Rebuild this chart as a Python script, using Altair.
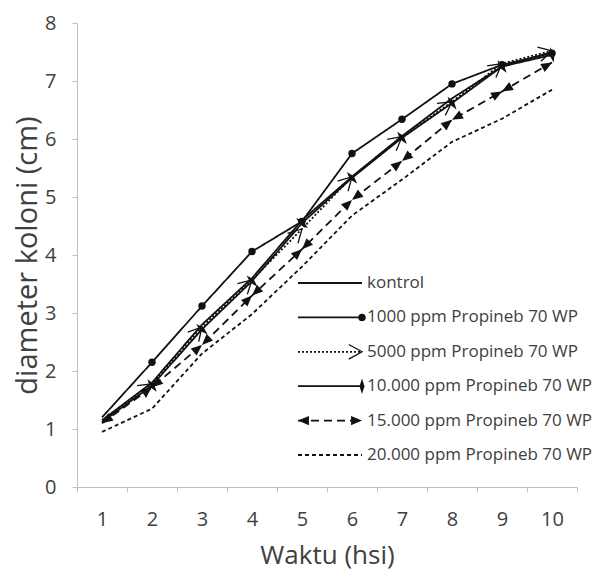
import math
import pandas as pd
import altair as alt

# ---------------- data ----------------
days = [1, 2, 3, 4, 5, 6, 7, 8, 9, 10]
series_names = [
    "kontrol",
    "1000 ppm Propineb 70 WP",
    "5000 ppm Propineb 70 WP",
    "10.000 ppm Propineb 70 WP",
    "15.000 ppm Propineb 70 WP",
    "20.000 ppm Propineb 70 WP",
]
kontrol = [1.15, 1.80, 2.80, 3.60, 4.60, 5.35, 6.05, 6.70, 7.25, 7.50]
p1000 = [1.20, 2.15, 3.12, 4.06, 4.58, 5.75, 6.34, 6.95, 7.28, 7.48]
p5000 = [1.15, 1.78, 2.76, 3.57, 4.45, 5.35, 6.04, 6.64, 7.30, 7.52]
p10000 = [1.12, 1.75, 2.72, 3.55, 4.55, 5.33, 6.02, 6.62, 7.25, 7.45]
p15000 = [1.10, 1.72, 2.45, 3.30, 4.10, 4.95, 5.62, 6.33, 6.82, 7.32]
p20000 = [0.95, 1.35, 2.30, 2.98, 3.80, 4.68, 5.30, 5.95, 6.35, 6.85]
all_values = [kontrol, p1000, p5000, p10000, p15000, p20000]

x_tick_values = [0.5, 1.5, 2.5, 3.5, 4.5, 5.5, 6.5, 7.5, 8.5, 9.5, 10.5]
y_tick_values = [0, 1, 2, 3, 4, 5, 6, 7, 8]

# ---------------- layout / style ----------------
PLOT_W, PLOT_H = 500, 464
X_DOM = [0.5, 10.5]
Y_DOM = [0, 8]
PX_X = PLOT_W / (X_DOM[1] - X_DOM[0])
PX_Y = PLOT_H / (Y_DOM[1] - Y_DOM[0])
INK = "#111111"
AXIS_GRAY = "#bfbfbf"
TEXT_GRAY = "#404040"
FONT = "Open Sans"

dash_range = [[1, 0], [1, 0], [2, 2], [1, 0], [8, 5], [4, 3]]
width_range = [1.8, 1.8, 1.3, 1.8, 2.0, 1.6]

# custom symbol paths (tip at origin, pointing right)
CHEVRON = "M-1,-0.55 L0,0 L-1,0.55"
TRIANGLE = "M0,0 L-1,-0.42 L-1,0.42 Z"
THIN_DIAMOND = "M0,-1 L0.32,0 L0,1 L-0.32,0 Z"

# ---------------- tables ----------------
rows = []
for name, vals in zip(series_names, all_values):
    for d, v in zip(days, vals):
        rows.append({"series": name, "x": d, "y": v})
df = pd.DataFrame(rows)


def seg_angle(v1, v2):
    return math.degrees(math.atan2(-(v2 - v1) * PX_Y, PX_X)) % 360


mrows = []
for name, vals in zip(series_names, all_values):
    for i in range(1, len(days)):
        a = seg_angle(vals[i - 1], vals[i])
        mrows.append({"series": name, "kind": "end", "x": days[i], "y": vals[i], "ang": a})
        mrows.append({"series": name, "kind": "begin", "x": days[i - 1], "y": vals[i - 1], "ang": (a + 180) % 360})
mdf = pd.DataFrame(mrows)

xscale = alt.Scale(domain=X_DOM, nice=False, zero=False)
yscale = alt.Scale(domain=Y_DOM, nice=False, zero=True)

xaxis = alt.Axis(
    values=x_tick_values,
    labelExpr="datum.value < 10 ? toString(datum.value + 0.5) : ''",
    labelOffset=PX_X / 2,
    labelFlush=False,
    labelOverlap=False,
    grid=False,
    domainColor=AXIS_GRAY,
    tickColor=AXIS_GRAY,
    tickSize=5,
    labelPadding=17,
    labelFont=FONT,
    labelFontSize=20,
    labelColor=TEXT_GRAY,
    title="Waktu (hsi)",
    titleFont=FONT,
    titleFontSize=26,
    titleFontWeight="normal",
    titleColor=TEXT_GRAY,
    titlePadding=13,
)
yaxis = alt.Axis(
    values=y_tick_values,
    format="d",
    labelFlush=False,
    labelOverlap=False,
    grid=False,
    domainColor=AXIS_GRAY,
    tickColor=AXIS_GRAY,
    tickSize=5,
    labelPadding=16,
    labelFont=FONT,
    labelFontSize=20,
    labelColor=TEXT_GRAY,
    title="diameter koloni (cm)",
    titleFont=FONT,
    titleFontSize=29,
    titleFontWeight="normal",
    titleColor=TEXT_GRAY,
    titlePadding=2,
)

X = alt.X("x:Q", scale=xscale, axis=xaxis)
Y = alt.Y("y:Q", scale=yscale, axis=yaxis)
dash_enc = alt.StrokeDash("series:N", scale=alt.Scale(domain=series_names, range=dash_range), legend=None)
width_enc = alt.StrokeWidth("series:N", scale=alt.Scale(domain=series_names, range=width_range), legend=None)
ANG = alt.Angle("ang:Q", scale=None)

base = alt.Chart(df)
lines = base.mark_line(color=INK).encode(x=X, y=Y, detail="series:N", strokeDash=dash_enc, strokeWidth=width_enc, order="x:Q")

mbase = alt.Chart(mdf)
circles = mbase.mark_point(shape="circle", filled=True, size=55, color=INK, opacity=1).encode(x=X, y=Y).transform_filter(
    (alt.datum.series == series_names[1]) & (alt.datum.kind == "end"))
chevrons = mbase.mark_point(shape=CHEVRON, filled=False, size=700, strokeWidth=1.3, color=INK, opacity=1).encode(
    x=X, y=Y, angle=ANG).transform_filter((alt.datum.series == series_names[2]) & (alt.datum.kind == "end"))
diamonds = mbase.mark_point(shape=THIN_DIAMOND, filled=True, size=240, color=INK, opacity=1).encode(
    x=X, y=Y, angle=ANG).transform_filter((alt.datum.series == series_names[3]) & (alt.datum.kind == "end"))
triangles = mbase.mark_point(shape=TRIANGLE, filled=True, size=480, color=INK, opacity=1).encode(
    x=X, y=Y, angle=ANG).transform_filter(alt.datum.series == series_names[4])

data_layer = alt.layer(lines, circles, chevrons, diamonds, triangles)

# ---------------- legend (inside plot) ----------------
leg_df = pd.DataFrame({"series": series_names})
LY = alt.Y("series:N", scale=alt.Scale(domain=series_names, range=[242.8, 449.2]), axis=None)
LX0, LX1, LXT = 221, 285, 290
lbase = alt.Chart(leg_df)
leg_lines = lbase.mark_rule(color=INK).encode(
    x=alt.value(LX0), x2=alt.value(LX1), y=LY, strokeDash=dash_enc, strokeWidth=width_enc)
leg_circle = lbase.mark_point(shape="circle", filled=True, size=55, color=INK, opacity=1).encode(
    x=alt.value(LX1), y=LY).transform_filter(alt.datum.series == series_names[1])
leg_chev = lbase.mark_point(shape=CHEVRON, filled=False, size=700, strokeWidth=1.3, color=INK, opacity=1, angle=0).encode(
    x=alt.value(LX1), y=LY).transform_filter(alt.datum.series == series_names[2])
leg_diam = lbase.mark_point(shape=THIN_DIAMOND, filled=True, size=240, color=INK, opacity=1, angle=0).encode(
    x=alt.value(LX1), y=LY).transform_filter(alt.datum.series == series_names[3])
leg_tri_r = lbase.mark_point(shape=TRIANGLE, filled=True, size=480, color=INK, opacity=1, angle=0).encode(
    x=alt.value(LX1), y=LY).transform_filter(alt.datum.series == series_names[4])
leg_tri_l = lbase.mark_point(shape=TRIANGLE, filled=True, size=480, color=INK, opacity=1, angle=180).encode(
    x=alt.value(LX0), y=LY).transform_filter(alt.datum.series == series_names[4])
leg_text = lbase.mark_text(align="left", baseline="middle", font=FONT, fontSize=17, color=TEXT_GRAY).encode(
    x=alt.value(LXT), y=LY, text="series:N")

legend_layer = alt.layer(leg_lines, leg_circle, leg_chev, leg_diam, leg_tri_r, leg_tri_l, leg_text)

chart = alt.layer(data_layer, legend_layer).resolve_scale(y="independent").properties(
    width=PLOT_W,
    height=PLOT_H,
    autosize=alt.AutoSizeParams(type="none"),
    padding={"left": 77, "top": 23, "right": 22, "bottom": 84},
    background="white",
).configure_view(stroke=None)

chart.save("out.html", embed_options={"renderer": "svg", "actions": False})
